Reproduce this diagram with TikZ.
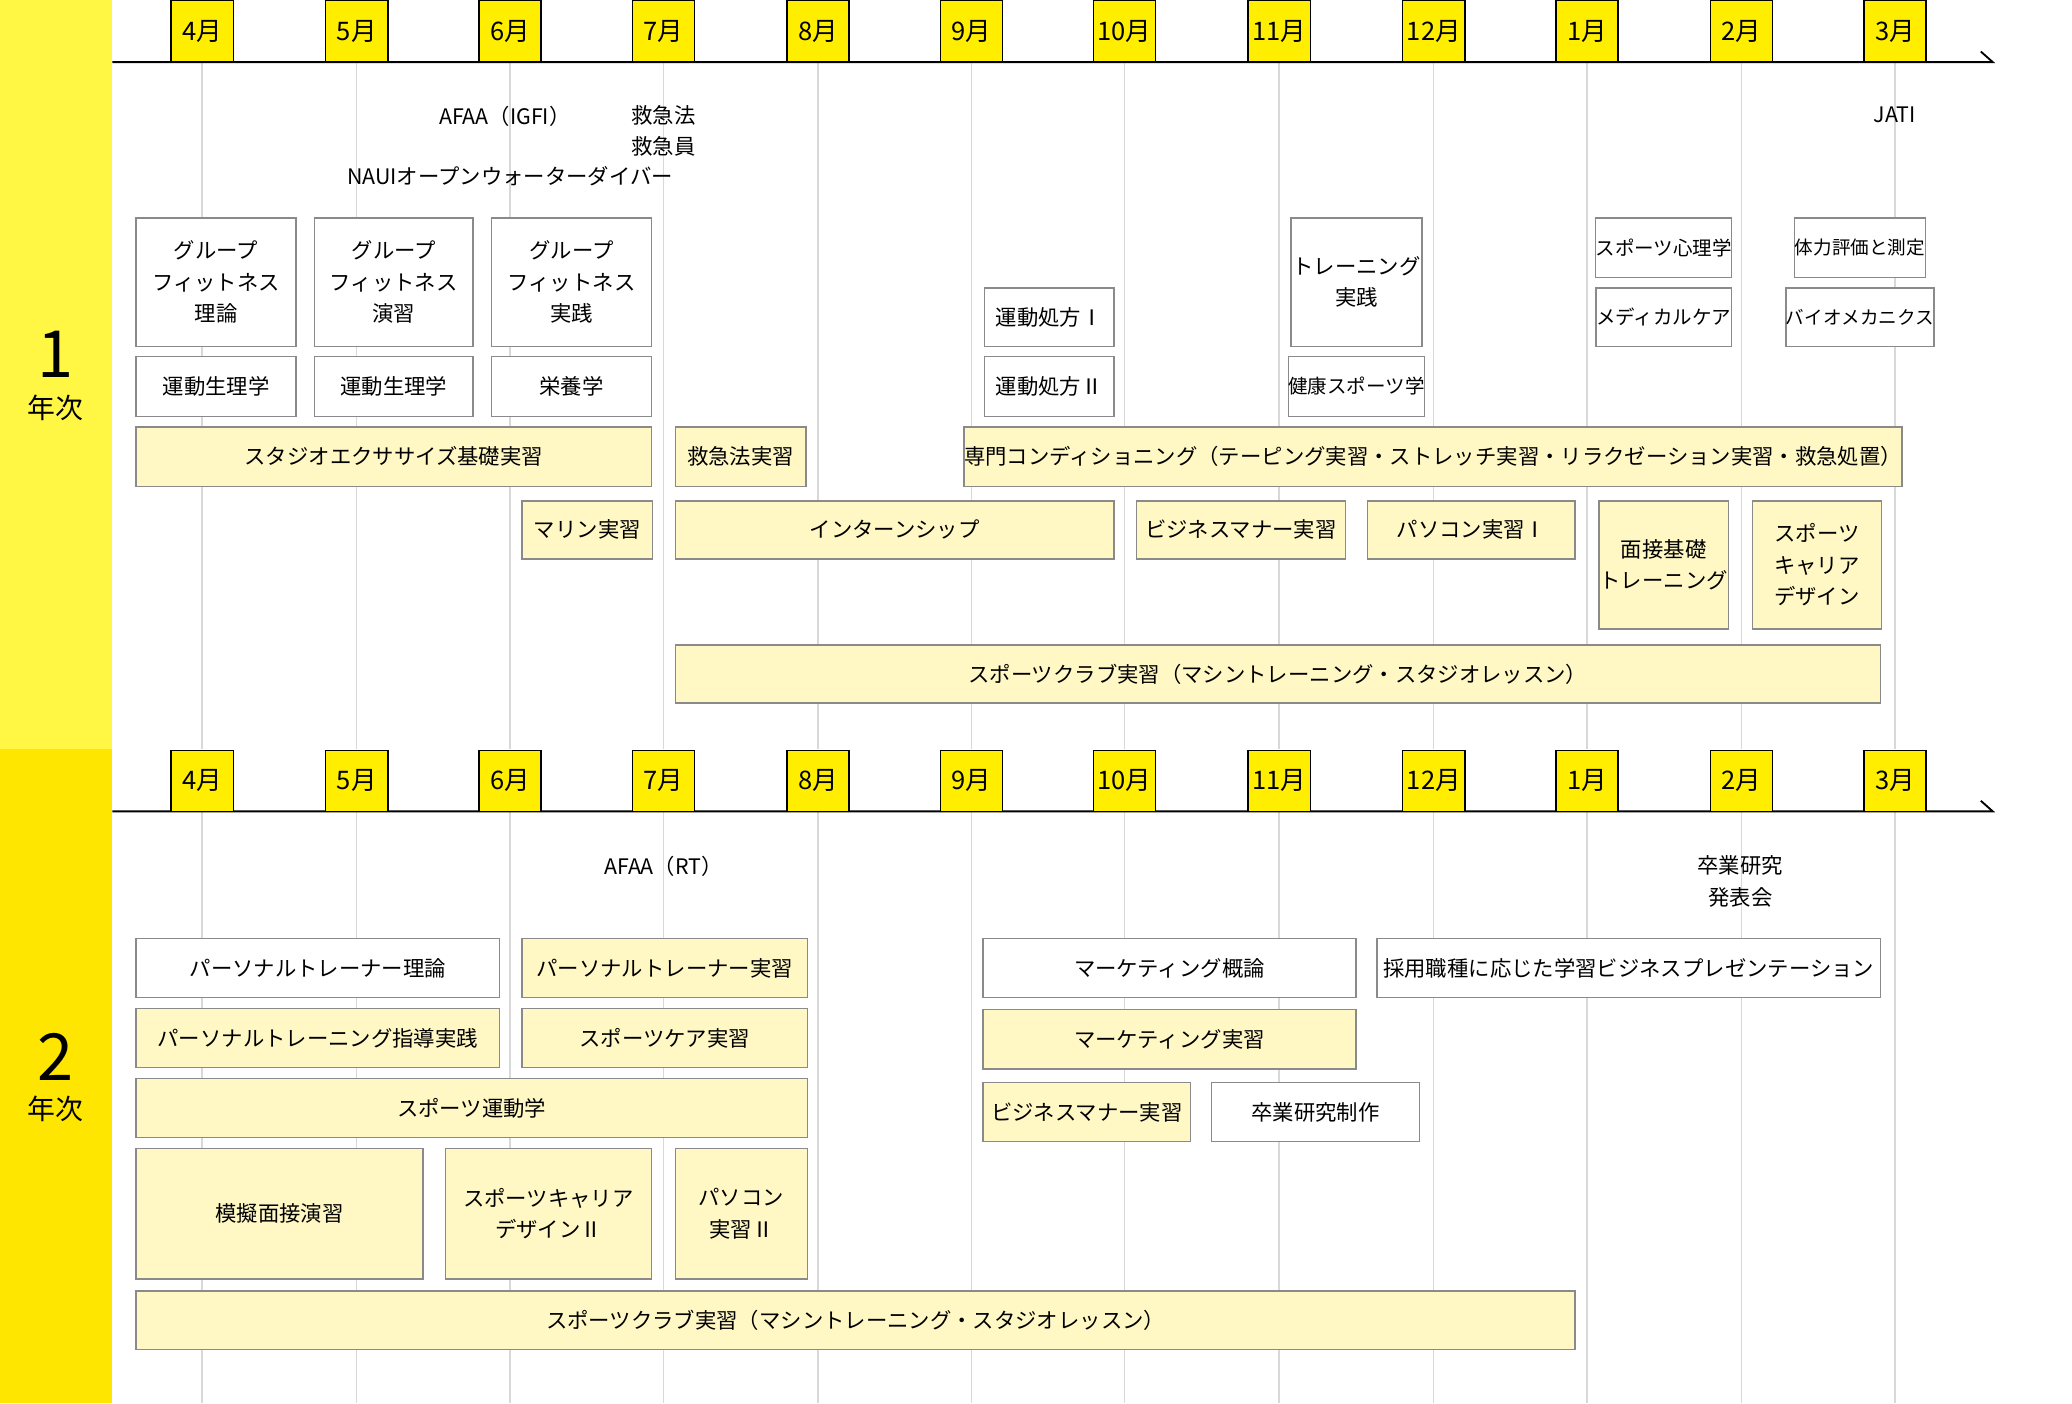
\documentclass[tikz,border=0pt]{standalone}
\usepackage{fontspec}
\setmainfont{Noto Sans CJK JP}
\definecolor{bandA}{HTML}{FFF744}
\definecolor{bandB}{HTML}{FFE600}
\definecolor{mon}{HTML}{FFEE00}
\definecolor{cream}{HTML}{FFF8C4}
\definecolor{gl}{HTML}{D8D8D8}
\definecolor{bd}{HTML}{8A8A8A}
\tikzset{
 cbox/.style={draw=bd,line width=0.6pt,fill=cream,align=center,inner sep=0pt,font=\fontsize{9.2}{13.5}\selectfont},
 wbox/.style={cbox,fill=white},
 mbox/.style={draw=black,line width=0.6pt,fill=mon,inner sep=0pt,minimum width=0.94cm,minimum height=0.92cm,font=\fontsize{11}{13}\selectfont},
 lbl/.style={align=center,font=\fontsize{9.2}{13.5}\selectfont,inner sep=0pt}
}
\newcommand{\bx}[7]{%
 \pgfmathsetmacro{\ww}{(#4-#2)*0.02}\pgfmathsetmacro{\hh}{(#5-#3)*0.02}%
 \node[#6,minimum width=\ww cm,minimum height=\hh cm] (#1) at ({(#2+#4)/2},{(#3+#5)/2}) {#7};}
\begin{document}
\begin{tikzpicture}[x=0.02cm,y=-0.02cm]
\useasboundingbox (0,0) rectangle (1568,1062);
\fill[white] (0,0) rectangle (1568,1062);
\fill[bandA] (0,0) rectangle (85,567);
\fill[bandB] (0,567) rectangle (85,1062);
\node[font=\fontsize{28}{30}\selectfont] (y1) at (42,268) {1};
\node[font=\fontsize{12}{14}\selectfont] (y1b) at (42,309) {年次};
\node[font=\fontsize{28}{30}\selectfont] (y2) at (42,800) {2};
\node[font=\fontsize{12}{14}\selectfont] (y2b) at (42,839) {年次};
\foreach \x in {153,270,386,502,619,735,851,968,1085,1201,1318,1434}{
 \draw[gl,line width=0.6pt] (\x,47) -- (\x,567);
 \draw[gl,line width=0.6pt] (\x,614) -- (\x,1062);}
\draw[line width=0.8pt] (85,47) -- (1508,47) -- (1499,39);
\draw[line width=0.8pt] (85,614) -- (1508,614) -- (1499,606);
\foreach \x/\m [count=\i] in {153/4,270/5,386/6,502/7,619/8,735/9,851/10,968/11,1085/12,1201/1,1318/2,1434/3}{
 \node[mbox] (ma\i) at (\x,23.5) {\m 月};
 \node[mbox] (mb\i) at (\x,591) {\m 月};}
% section 1
\bx{a1}{103}{165}{224}{262}{wbox}{グループ\\フィットネス\\理論}
\bx{a2}{238}{165}{358}{262}{wbox}{グループ\\フィットネス\\演習}
\bx{a3}{372}{165}{493}{262}{wbox}{グループ\\フィットネス\\実践}
\bx{a4}{103}{270}{224}{315}{wbox}{運動生理学}
\bx{a5}{238}{270}{358}{315}{wbox}{運動生理学}
\bx{a6}{372}{270}{493}{315}{wbox}{栄養学}
\bx{a7}{103}{323}{493}{368}{cbox}{スタジオエクササイズ基礎実習}
\bx{a8}{511}{323}{610}{368}{cbox}{救急法実習}
\bx{a9}{745}{323}{1424}{368}{cbox}{専門コンディショニング（テーピング実習・ストレッチ実習・リラクゼーション実習・救急処置）}
\bx{a10}{395}{379}{494}{423}{cbox}{マリン実習}
\bx{a11}{511}{379}{843}{423}{cbox}{インターンシップ}
\bx{a12}{860}{379}{1018}{423}{cbox}{ビジネスマナー実習}
\bx{a13}{1035}{379}{1192}{423}{cbox}{パソコン実習Ⅰ}
\bx{a14}{1210}{379}{1308}{476}{cbox}{面接基礎\\トレーニング}
\bx{a15}{1326}{379}{1424}{476}{cbox}{スポーツ\\キャリア\\デザイン}
\bx{a16}{511}{488}{1423}{532}{cbox}{スポーツクラブ実習（マシントレーニング・スタジオレッスン）}
\bx{a17}{745}{218}{843}{262}{wbox}{運動処方Ⅰ}
\bx{a18}{745}{270}{843}{315}{wbox}{運動処方Ⅱ}
\bx{a19}{977}{165}{1076}{262}{wbox}{トレーニング\\実践}
\bx{a20}{977}{270}{1076}{315}{wbox,font=\fontsize{8.4}{12}\selectfont}{健康スポーツ学}
\bx{a21}{1210}{165}{1308}{210}{wbox,font=\fontsize{8.4}{12}\selectfont}{スポーツ心理学}
\bx{a22}{1210}{218}{1308}{262}{wbox,font=\fontsize{8.4}{12}\selectfont}{メディカルケア}
\bx{a23}{1358}{165}{1457}{210}{wbox,font=\fontsize{8}{12}\selectfont}{体力評価と測定}
\bx{a24}{1358}{218}{1457}{262}{wbox,font=\fontsize{8}{12}\selectfont}{バイオメカニクス}
\node[lbl] (t1) at (382,88) {AFAA（IGFI）};
\node[lbl] (t2) at (502,99) {救急法\\救急員};
\node[lbl] (t3) at (386,133) {NAUIオープンウォーターダイバー};
\node[lbl] (t4) at (1434,87) {JATI};
% section 2
\bx{b1}{103}{710}{378}{755}{wbox}{パーソナルトレーナー理論}
\bx{b2}{395}{710}{611}{755}{cbox}{パーソナルトレーナー実習}
\bx{b3}{103}{763}{378}{808}{cbox}{パーソナルトレーニング指導実践}
\bx{b4}{395}{763}{611}{808}{cbox}{スポーツケア実習}
\bx{b5}{103}{816}{611}{861}{cbox}{スポーツ運動学}
\bx{b6}{103}{869}{320}{968}{cbox}{模擬面接演習}
\bx{b7}{337}{869}{493}{968}{cbox}{スポーツキャリア\\デザインⅡ}
\bx{b8}{511}{869}{611}{968}{cbox}{パソコン\\実習Ⅱ}
\bx{b9}{103}{977}{1192}{1021}{cbox}{スポーツクラブ実習（マシントレーニング・スタジオレッスン）}
\bx{b10}{744}{710}{1026}{755}{wbox}{マーケティング概論}
\bx{b11}{744}{764}{1026}{809}{cbox}{マーケティング実習}
\bx{b12}{744}{819}{901}{864}{cbox}{ビジネスマナー実習}
\bx{b13}{917}{819}{1074}{864}{wbox}{卒業研究制作}
\bx{b14}{1042}{710}{1423}{755}{wbox}{採用職種に応じた学習ビジネスプレゼンテーション}
\node[lbl] (t5) at (502,656) {AFAA（RT）};
\node[lbl] (t6) at (1317,667) {卒業研究\\発表会};
\end{tikzpicture}
\end{document}
